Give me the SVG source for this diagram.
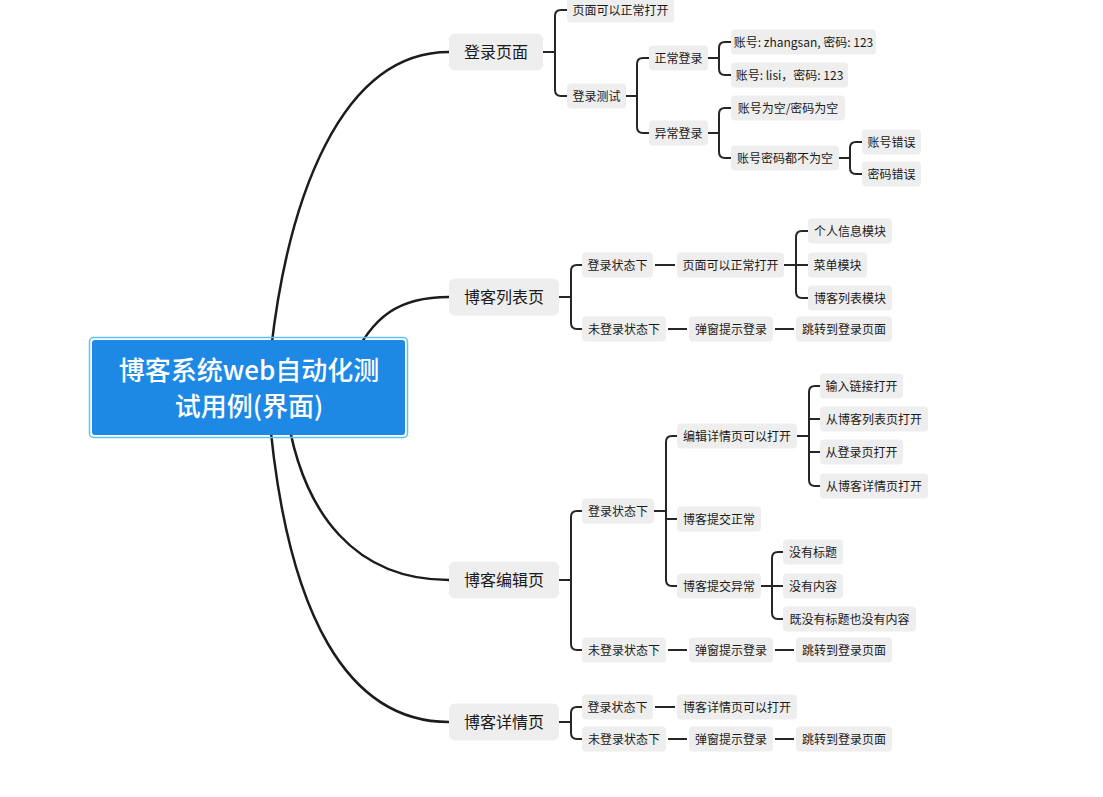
<svg xmlns="http://www.w3.org/2000/svg" width="1103" height="797" viewBox="0 0 1103 797">
<style>
.bg{fill:#ffffff}
.c{fill:none;stroke:#1c1c1c;stroke-width:2.5;stroke-linecap:round}
.l{fill:none;stroke:#262626;stroke-width:2;stroke-linejoin:round}
.b1{fill:#eeeeee}
.b2{fill:#eeeeee}
.t1{font-family:"Noto Sans CJK SC","Noto Sans",sans-serif;font-size:16px;fill:#1a1a1a;text-anchor:middle}
.t2{font-family:"Noto Sans CJK SC","Noto Sans",sans-serif;font-size:12px;fill:#1a1a1a;text-anchor:middle}
.t0{font-family:"Noto Sans CJK SC","Noto Sans",sans-serif;font-size:26px;fill:#ffffff;text-anchor:middle;font-weight:500}
</style>
<rect class="bg" x="0" y="0" width="1103" height="797"/>
<g id="connectors">
<path class="c" d="M271 350 C288 200,340 52,449 52"/>
<path class="c" d="M350 365 C372 315,400 297,449 297"/>
<path class="c" d="M285 400 C300 520,360 580,449 580"/>
<path class="c" d="M268 400 C285 620,350 722,449 722"/>
<!-- login -->
<path class="l" d="M543 52 H555 M567 10 H561 Q555 10 555 16 V90 Q555 96 561 96 H567"/>
<path class="l" d="M626 96 H637 M649 58 H643 Q637 58 637 64 V127 Q637 133 643 133 H649"/>
<path class="l" d="M708 58 H719 M731 42 H725 Q719 42 719 48 V69 Q719 75 725 75 H731"/>
<path class="l" d="M708 133 H719 M731 108 H725 Q719 108 719 114 V152 Q719 158 725 158 H731"/>
<path class="l" d="M839 158 H850 M862 142 H856 Q850 142 850 148 V168 Q850 174 856 174 H862"/>
<!-- list -->
<path class="l" d="M559 297 H571 M582 265 H577 Q571 265 571 271 V323 Q571 329 577 329 H582"/>
<path class="l" d="M655 265 H675"/>
<path class="l" d="M784 265 H808 M808 231 H802 Q796 231 796 237 V292 Q796 298 802 298 H808"/>
<path class="l" d="M668 329 H687 M775 329 H794"/>
<!-- edit -->
<path class="l" d="M559 580 H571 M582 511 H577 Q571 511 571 517 V644 Q571 650 577 650 H582"/>
<path class="l" d="M654 511 H666 M677 436 H672 Q666 436 666 442 V580 Q666 586 672 586 H677 M666 519 H677"/>
<path class="l" d="M797 436 H809 M820 386 H815 Q809 386 809 392 V480 Q809 486 815 486 H820 M809 419 H820 M809 452 H820"/>
<path class="l" d="M761 586 H783 M783 552 H778 Q772 552 772 558 V613 Q772 619 778 619 H783"/>
<path class="l" d="M668 650 H687 M775 650 H794"/>
<!-- detail -->
<path class="l" d="M559 722 H571 M582 707 H577 Q571 707 571 713 V733 Q571 739 577 739 H582"/>
<path class="l" d="M655 707 H675"/>
<path class="l" d="M668 739 H687 M775 739 H794"/>
</g>
<g id="root">
<rect x="89.5" y="337.5" width="318" height="100" rx="4" fill="none" stroke="#5cc3f5" stroke-width="1.5"/>
<rect x="92" y="340" width="313" height="95" rx="3" fill="#1e88e5"/>
<text class="t0" x="249" y="380">博客系统web自动化测</text>
<text class="t0" x="249" y="416">试用例(界面)</text>
</g>
<g id="n-login"><rect class="b1" x="449" y="33.5" width="94" height="37" rx="6"/><text class="t1" x="496" y="57.5">登录页面</text></g>
<g id="n-list"><rect class="b1" x="449" y="278.5" width="110" height="37" rx="6"/><text class="t1" x="504" y="302.5">博客列表页</text></g>
<g id="n-edit"><rect class="b1" x="449" y="561.5" width="110" height="37" rx="6"/><text class="t1" x="504" y="585.5">博客编辑页</text></g>
<g id="n-detail"><rect class="b1" x="449" y="703.5" width="110" height="37" rx="6"/><text class="t1" x="504" y="727.5">博客详情页</text></g>

<g id="n-l1"><rect class="b2" x="567" y="-2.5" width="107" height="25" rx="4"/><text class="t2" x="620.5" y="14.5">页面可以正常打开</text></g>
<g id="n-l2"><rect class="b2" x="567" y="83.5" width="59" height="25" rx="4"/><text class="t2" x="596.5" y="100.5">登录测试</text></g>
<g id="n-l3"><rect class="b2" x="649" y="45.5" width="59" height="25" rx="4"/><text class="t2" x="678.5" y="62.5">正常登录</text></g>
<g id="n-l4"><rect class="b2" x="649" y="120.5" width="59" height="25" rx="4"/><text class="t2" x="678.5" y="137.5">异常登录</text></g>
<g id="n-l5"><rect class="b2" x="731" y="29.5" width="145" height="25" rx="4"/><text class="t2" x="803.5" y="46.5">账号: zhangsan, 密码: 123</text></g>
<g id="n-l6"><rect class="b2" x="731" y="62.5" width="117" height="25" rx="4"/><text class="t2" x="789.5" y="79.5">账号: lisi，密码: 123</text></g>
<g id="n-l7"><rect class="b2" x="731" y="95.5" width="114" height="25" rx="4"/><text class="t2" x="788" y="112.5">账号为空/密码为空</text></g>
<g id="n-l8"><rect class="b2" x="731" y="145.5" width="108" height="25" rx="4"/><text class="t2" x="785" y="162.5">账号密码都不为空</text></g>
<g id="n-l9"><rect class="b2" x="862" y="129.5" width="59" height="25" rx="4"/><text class="t2" x="891.5" y="146.5">账号错误</text></g>
<g id="n-l10"><rect class="b2" x="862" y="161.5" width="59" height="25" rx="4"/><text class="t2" x="891.5" y="178.5">密码错误</text></g>

<g id="n-s1"><rect class="b2" x="582" y="252.5" width="71" height="25" rx="4"/><text class="t2" x="617.5" y="269.5">登录状态下</text></g>
<g id="n-s2"><rect class="b2" x="677" y="252.5" width="107" height="25" rx="4"/><text class="t2" x="730.5" y="269.5">页面可以正常打开</text></g>
<g id="n-s3"><rect class="b2" x="808" y="218.5" width="84" height="25" rx="4"/><text class="t2" x="850" y="235.5">个人信息模块</text></g>
<g id="n-s4"><rect class="b2" x="808" y="252.5" width="59" height="25" rx="4"/><text class="t2" x="837.5" y="269.5">菜单模块</text></g>
<g id="n-s5"><rect class="b2" x="808" y="285.5" width="84" height="25" rx="4"/><text class="t2" x="850" y="302.5">博客列表模块</text></g>
<g id="n-s6"><rect class="b2" x="582" y="316.5" width="84" height="25" rx="4"/><text class="t2" x="624" y="333.5">未登录状态下</text></g>
<g id="n-s7"><rect class="b2" x="689" y="316.5" width="84" height="25" rx="4"/><text class="t2" x="731" y="333.5">弹窗提示登录</text></g>
<g id="n-s8"><rect class="b2" x="796" y="316.5" width="96" height="25" rx="4"/><text class="t2" x="844" y="333.5">跳转到登录页面</text></g>

<g id="n-e1"><rect class="b2" x="582" y="498.5" width="72" height="25" rx="4"/><text class="t2" x="618" y="515.5">登录状态下</text></g>
<g id="n-e2"><rect class="b2" x="677" y="423.5" width="120" height="25" rx="4"/><text class="t2" x="737" y="440.5">编辑详情页可以打开</text></g>
<g id="n-e3"><rect class="b2" x="820" y="373.5" width="83" height="25" rx="4"/><text class="t2" x="861.5" y="390.5">输入链接打开</text></g>
<g id="n-e4"><rect class="b2" x="820" y="406.5" width="108" height="25" rx="4"/><text class="t2" x="874" y="423.5">从博客列表页打开</text></g>
<g id="n-e5"><rect class="b2" x="820" y="439.5" width="83" height="25" rx="4"/><text class="t2" x="861.5" y="456.5">从登录页打开</text></g>
<g id="n-e6"><rect class="b2" x="820" y="473.5" width="108" height="25" rx="4"/><text class="t2" x="874" y="490.5">从博客详情页打开</text></g>
<g id="n-e7"><rect class="b2" x="677" y="506.5" width="84" height="25" rx="4"/><text class="t2" x="719" y="523.5">博客提交正常</text></g>
<g id="n-e8"><rect class="b2" x="677" y="573.5" width="84" height="25" rx="4"/><text class="t2" x="719" y="590.5">博客提交异常</text></g>
<g id="n-e9"><rect class="b2" x="783" y="539.5" width="60" height="25" rx="4"/><text class="t2" x="813" y="556.5">没有标题</text></g>
<g id="n-e10"><rect class="b2" x="783" y="573.5" width="60" height="25" rx="4"/><text class="t2" x="813" y="590.5">没有内容</text></g>
<g id="n-e11"><rect class="b2" x="783" y="606.5" width="133" height="25" rx="4"/><text class="t2" x="849.5" y="623.5">既没有标题也没有内容</text></g>
<g id="n-e12"><rect class="b2" x="582" y="637.5" width="84" height="25" rx="4"/><text class="t2" x="624" y="654.5">未登录状态下</text></g>
<g id="n-e13"><rect class="b2" x="689" y="637.5" width="84" height="25" rx="4"/><text class="t2" x="731" y="654.5">弹窗提示登录</text></g>
<g id="n-e14"><rect class="b2" x="796" y="637.5" width="96" height="25" rx="4"/><text class="t2" x="844" y="654.5">跳转到登录页面</text></g>

<g id="n-d1"><rect class="b2" x="582" y="694.5" width="71" height="25" rx="4"/><text class="t2" x="617.5" y="711.5">登录状态下</text></g>
<g id="n-d2"><rect class="b2" x="677" y="694.5" width="120" height="25" rx="4"/><text class="t2" x="737" y="711.5">博客详情页可以打开</text></g>
<g id="n-d3"><rect class="b2" x="582" y="726.5" width="84" height="25" rx="4"/><text class="t2" x="624" y="743.5">未登录状态下</text></g>
<g id="n-d4"><rect class="b2" x="689" y="726.5" width="84" height="25" rx="4"/><text class="t2" x="731" y="743.5">弹窗提示登录</text></g>
<g id="n-d5"><rect class="b2" x="796" y="726.5" width="96" height="25" rx="4"/><text class="t2" x="844" y="743.5">跳转到登录页面</text></g>
</svg>
